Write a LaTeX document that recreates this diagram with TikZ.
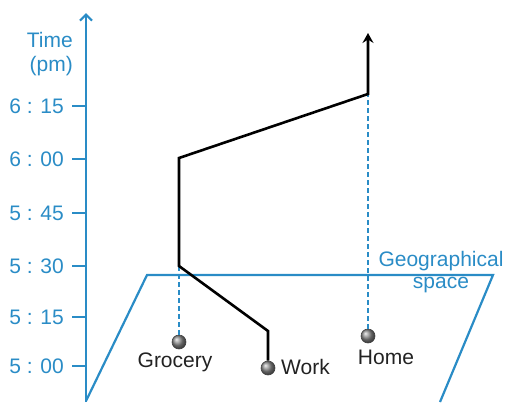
\documentclass[tikz,border=0pt]{standalone}
\usepackage{fontspec}
\setmainfont{Liberation Sans}
\usetikzlibrary{arrows.meta,shadings}
\definecolor{axisblue}{RGB}{42,140,198}
\definecolor{inkgray}{RGB}{34,34,34}
\begin{document}
\begin{tikzpicture}[x=1bp,y=-1bp,
  lbl/.style={font=\fontsize{21bp}{25bp}\selectfont, inner sep=0pt, text=inkgray},
  bluelbl/.style={lbl, text=axisblue},
  tickmark/.style={draw=axisblue, line width=2.2bp},
  place/.style={circle, minimum size=14bp, inner sep=0pt, ball color=black!45, draw=black!75, line width=0.6bp},
  route/.style={line width=2.6bp, black, line join=miter},
  drop/.style={axisblue, line width=1.7bp, dash pattern=on 5bp off 3bp},
  plane/.style={axisblue, line width=2.2bp, line join=miter}]
\useasboundingbox (0,0) rectangle (506,402);
% plane
\coordinate (p1) at (86,401);
\coordinate (p2) at (147,275);
\coordinate (p3) at (493,275);
\coordinate (p4) at (440,402);
\draw[plane] (p4) -- (p3) -- (p2) -- (p1);
% axis
\coordinate (axbot) at (86,402);
\coordinate (axtop) at (86,13);
\draw[axisblue, line width=2.2bp, -{Straight Barb[length=6bp,width=12bp]}] (axbot) -- (axtop);
\node[bluelbl, anchor=east] (timel) at (73,40) {Time};
\node[bluelbl, anchor=east] (pml) at (73,66) {(pm)};
\foreach \y/\t [count=\i] in {106/6 : 15, 159/6 : 00, 213/5 : 45, 266/5 : 30, 317/5 : 15, 366/5 : 00} {
  \node[bluelbl, anchor=east] (tl\i) at (64,\y) {\t};
  \coordinate (ta\i) at (72,\y);
  \coordinate (tb\i) at (86,\y);
  \draw[tickmark] (ta\i) -- (tb\i);
}
% places
\node[place] (groc) at (179,342) {};
\node[place] (work) at (268,368) {};
\node[place] (home) at (368,336) {};
% route corners
\coordinate (w1) at (268,331);
\coordinate (g1) at (179,266);
\coordinate (g2) at (179,158);
\coordinate (h1) at (368,94);
\coordinate (tip) at (368,33);
\draw[drop] (groc.north) -- (g1);
\draw[drop] (home.north) -- (h1);
\draw[route, -{Stealth[length=10bp,width=11bp,inset=3.5bp]}] (work.north) -- (w1) -- (g1) -- (g2) -- (h1) -- (tip);
% labels
\node[lbl] (grocl) at (175,362) {Grocery};
\node[lbl, anchor=west] (workl) at (281,367) {Work};
\node[lbl] (homel) at (386,357) {Home};
\node[bluelbl] (geol) at (441,261) {Geographical};
\node[bluelbl] (spacel) at (441,285) {space};
\end{tikzpicture}
\end{document}
